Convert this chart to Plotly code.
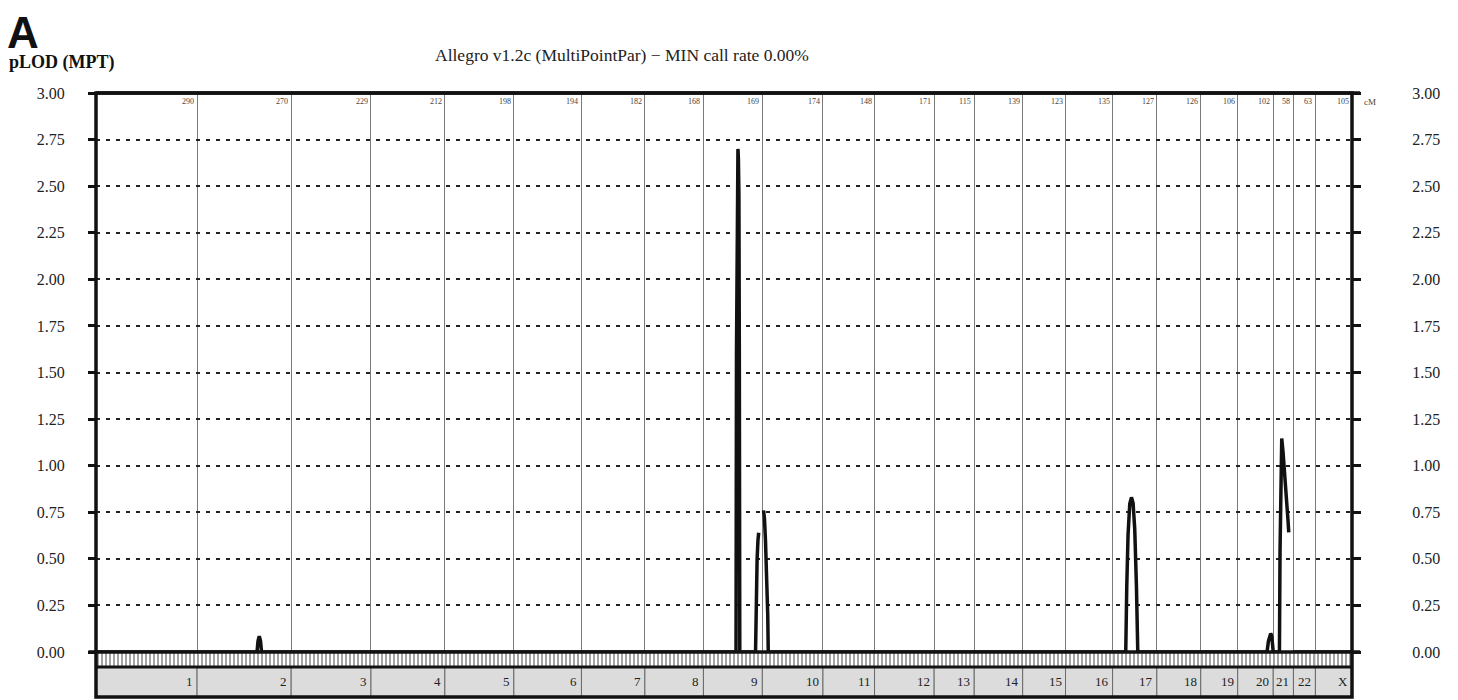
import plotly.graph_objects as go

# ---------------- data ----------------
chroms = ["1", "2", "3", "4", "5", "6", "7", "8", "9", "10", "11", "12",
          "13", "14", "15", "16", "17", "18", "19", "20", "21", "22", "X"]
lengths_cm = [290, 270, 229, 212, 198, 194, 182, 168, 169, 174, 148, 171,
              115, 139, 123, 135, 127, 126, 106, 102, 58, 63, 105]

y_ticks = [0.0, 0.25, 0.5, 0.75, 1.0, 1.25, 1.5, 1.75, 2.0, 2.25, 2.5, 2.75, 3.0]
y_ticktext = ["0.00", "0.25", "0.50", "0.75", "1.00", "1.25", "1.50", "1.75",
              "2.00", "2.25", "2.50", "2.75", "3.00"]

# pLOD curves (position within chromosome in cM, pLOD)
chr2_cm = [172.0, 175.0, 178.5, 182.0, 185.0]
chr2_lod = [0.0, 0.06, 0.085, 0.06, 0.0]

chr9_cm = [93.5, 94.8, 96.3, 97.8, 99.0, 100.3, 101.8, 103.0, 104.3,
           149.5, 151.5, 154.0, 156.5, 158.5]
chr9_lod = [0.0, 1.6, 2.45, 2.65, 2.70, 2.65, 2.45, 1.6, 0.0,
            0.0, 0.3, 0.5, 0.6, 0.64]

chr10_cm = [3.5, 6.0, 9.0, 11.5, 14.0, 15.5, 17.0]
chr10_lod = [0.76, 0.72, 0.6, 0.47, 0.3, 0.2, 0.0]

chr17_cm = [37.8, 40.7, 44.4, 49.3, 54.2, 58.8, 63.6, 68.5, 72.3]
chr17_lod = [0.0, 0.35, 0.63, 0.795, 0.83, 0.80, 0.66, 0.35, 0.0]

chr20_cm = [84.2, 88.2, 92.0, 94.8, 97.7, 99.7]
chr20_lod = [0.0, 0.058, 0.094, 0.10, 0.085, 0.0]

chr21_cm = [17.8, 19.5, 21.5, 24.4, 28.1, 33.0, 37.9, 42.4, 44.5]
chr21_lod = [0.0, 0.54, 0.90, 1.146, 1.074, 0.966, 0.831, 0.705, 0.642]

peaks = {"2": (chr2_cm, chr2_lod), "9": (chr9_cm, chr9_lod),
         "10": (chr10_cm, chr10_lod), "17": (chr17_cm, chr17_lod),
         "20": (chr20_cm, chr20_lod), "21": (chr21_cm, chr21_lod)}

# ---------------- derived genome coordinates ----------------
starts = []
acc = 0
for L in lengths_cm:
    starts.append(acc)
    acc += L
total_cm = acc
ends = [s + L for s, L in zip(starts, lengths_cm)]
mids = [s + L / 2 for s, L in zip(starts, lengths_cm)]

xs, ys = [], []
for c, s, L in zip(chroms, starts, lengths_cm):
    if c in peaks:
        pos, lod = list(peaks[c][0]), list(peaks[c][1])
        if pos[0] > 0 and lod[0] == 0:
            pos = [0] + pos
            lod = [0.0] + lod
        if lod[-1] == 0:
            pos = pos + [L]
            lod = lod + [0.0]
    else:
        pos, lod = [0, L], [0.0, 0.0]
    xs += [s + p for p in pos] + [None]
    ys += lod + [None]

Y_BOTTOM = -0.2415
Y_DIV = -0.080
Y_STRIP_TOP = -0.004

SERIF = "Liberation Serif"

fig = go.Figure()

# chromosome label band
fig.add_trace(go.Bar(
    x=mids, y=[Y_DIV - Y_BOTTOM] * len(mids), base=[Y_BOTTOM] * len(mids),
    width=lengths_cm, marker=dict(color="#dcdcdc", line=dict(color="#6a6a6a", width=1)),
    hoverinfo="skip", showlegend=False, yaxis="y"))

# marker strip (barcode)
fig.add_trace(go.Bar(
    x=mids, y=[Y_STRIP_TOP - Y_DIV] * len(mids), base=[Y_DIV] * len(mids),
    width=lengths_cm,
    marker=dict(color="white", line=dict(width=0),
                pattern=dict(shape="|", fgcolor="#8c8c8c", bgcolor="white",
                             size=4, solidity=0.4, fillmode="replace")),
    hoverinfo="skip", showlegend=False, yaxis="y2"))

# pLOD curve
fig.add_trace(go.Scatter(
    x=xs, y=ys, mode="lines", line=dict(color="#111111", width=3.5),
    connectgaps=False, hoverinfo="skip", showlegend=False, yaxis="y"))

annotations = []
for c, e, L in zip(chroms, ends, lengths_cm):
    annotations.append(dict(x=e, y=3.0, xref="x", yref="y", text=str(L),
                            xanchor="right", yanchor="top", xshift=-1, yshift=-2,
                            showarrow=False, font=dict(family=SERIF, size=8, color="#444")))
    annotations.append(dict(x=e, y=(Y_BOTTOM + Y_DIV) / 2, xref="x", yref="y", text=c,
                            xanchor="right", yanchor="middle", xshift=-2,
                            showarrow=False, font=dict(family=SERIF, size=13, color="#222")))

annotations += [
    dict(x=1, y=3.0, xref="paper", yref="y", text="cM", xanchor="left", yanchor="top",
         xshift=10, yshift=-2, showarrow=False, font=dict(family=SERIF, size=9, color="#444")),
    dict(x=-0.0725, y=1.100, xref="paper", yref="paper", text="<b>A</b>",
         xanchor="left", yanchor="middle", showarrow=False,
         font=dict(family="Liberation Sans", size=44, color="#111")),
    dict(x=-0.0712, y=1.051, xref="paper", yref="paper", text="<b>pLOD (MPT)</b>",
         xanchor="left", yanchor="middle", showarrow=False,
         font=dict(family=SERIF, size=18, color="#111")),
    dict(x=0.4188, y=1.063, xref="paper", yref="paper",
         text="Allegro v1.2c (MultiPointPar) \u2212 MIN call rate 0.00%",
         xanchor="center", yanchor="middle", showarrow=False,
         font=dict(family=SERIF, size=17.5, color="#222")),
]

shapes = [
    dict(type="rect", xref="paper", yref="paper", x0=0, x1=1, y0=0, y1=1,
         line=dict(color="#111", width=3.5), layer="above"),
    dict(type="line", xref="paper", yref="paper", x0=0, x1=1.0065, y0=1, y1=1,
         line=dict(color="#111", width=3.5), layer="above"),
    dict(type="line", xref="paper", yref="y", x0=-0.006, x1=1.0065, y0=0, y1=0,
         line=dict(color="#111", width=3.5), layer="above"),
    dict(type="line", xref="paper", yref="y", x0=0, x1=1, y0=Y_DIV, y1=Y_DIV,
         line=dict(color="#111", width=3), layer="above"),
]

yaxis_common = dict(range=[Y_BOTTOM, 3.0], tickvals=y_ticks, ticktext=y_ticktext,
                    ticks="outside", tickcolor="#111", tickwidth=2.5,
                    tickfont=dict(family=SERIF, size=16, color="#222"),
                    zeroline=False, showline=False, fixedrange=True)

# page body has an 8px default margin, so the figure is sized to fit the window
fig.update_layout(
    width=1450, height=692,
    margin=dict(l=88, r=106, t=85, b=3),
    paper_bgcolor="white", plot_bgcolor="white",
    barmode="overlay",
    showlegend=False,
    xaxis=dict(range=[0, total_cm], tickvals=ends[:-1], showticklabels=False,
               ticks="", showgrid=True, gridcolor="#7a7a7a", gridwidth=1,
               zeroline=False, showline=False, fixedrange=True),
    yaxis=dict(**yaxis_common, ticklen=7, ticklabelstandoff=20,
               showgrid=True, gridcolor="#222", gridwidth=2, griddash="4px,6px"),
    yaxis2=dict(**yaxis_common, ticklen=8, ticklabelstandoff=48, overlaying="y",
                side="right", showgrid=False),
    annotations=annotations,
    shapes=shapes,
)

fig.write_html("out.html")
